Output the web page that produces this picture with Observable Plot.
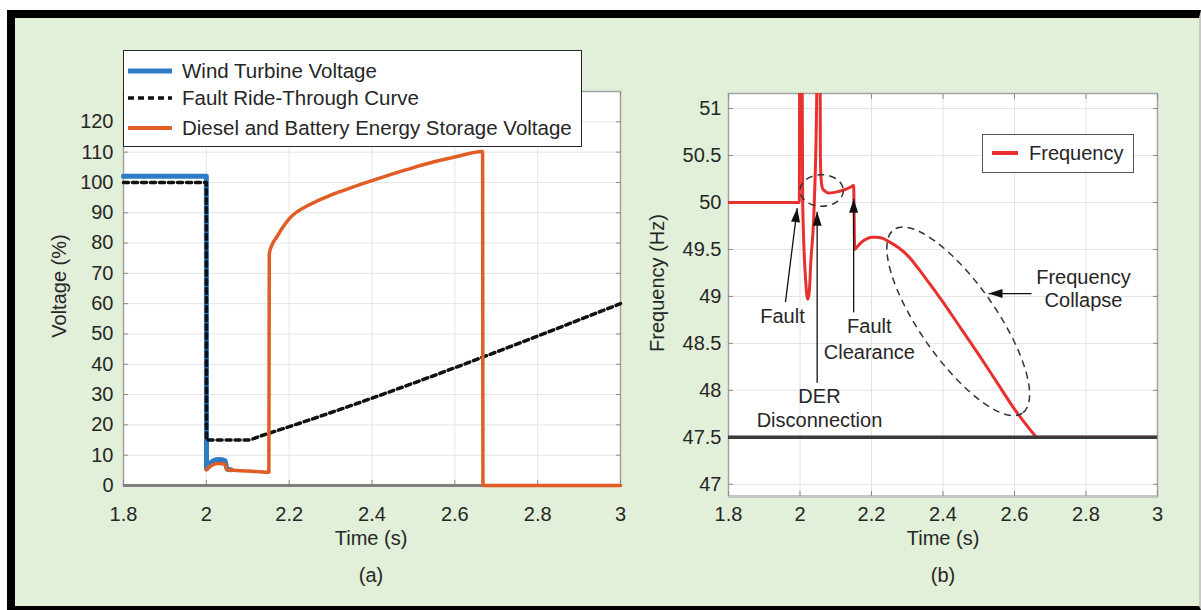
<!DOCTYPE html>
<html><head><meta charset="utf-8">
<script src="https://cdn.jsdelivr.net/npm/d3@7"></script>
<script src="https://cdn.jsdelivr.net/npm/@observablehq/plot@0.6"></script>
<style>
html,body{margin:0;padding:0;background:#fff;}
body{width:1201px;height:610px;position:relative;overflow:hidden;font-family:"Liberation Sans",Arial,Helvetica,sans-serif;color:#262626;}
#panel{position:absolute;left:7px;top:10px;width:1194px;height:600px;box-sizing:border-box;background:#e2efd9;border-left:8px solid #000;border-top:8px solid #000;border-bottom:4px solid #000;border-right:2px solid #c8c8c8;}
.chart{position:absolute;top:0;}
.lbl{position:absolute;transform:translate(-50%,-50%);white-space:nowrap;font-size:20px;line-height:1;}
.rot{transform:translate(-50%,-50%) rotate(-90deg);}
.legend{position:absolute;background:#fff;border:1.5px solid #262626;box-sizing:border-box;}
.legend .row{position:absolute;left:0;height:24px;white-space:nowrap;font-size:20px;line-height:24px;}
.legend svg{position:absolute;top:0;}
.legend span{position:absolute;top:0;}
</style></head>
<body>
<div id="panel"></div>
<div id="left" class="chart" style="left:0px"></div>
<div id="right" class="chart" style="left:630px"></div>
<script>
// ---------- data ----------
const timeTicks = [1.8, 2, 2.2, 2.4, 2.6, 2.8, 3];
const voltageTicks = [0, 10, 20, 30, 40, 50, 60, 70, 80, 90, 100, 110, 120];
const freqTicks = [47, 47.5, 48, 48.5, 49, 49.5, 50, 50.5, 51];

const windT = [1.8, 2.0, 2.0005, 2.005, 2.015, 2.03, 2.045, 2.05, 2.06];
const windV = [102, 102, 5.5, 6.5, 8.0, 8.6, 8.2, 5.4, 5.2];

const frtT = [1.8, 2.0, 2.0005, 2.1, 2.13, 3.0];
const frtV = [100, 100, 15, 15, 16.3, 60];

const dieselT = [2.0, 2.005, 2.015, 2.03, 2.045, 2.05, 2.1, 2.151, 2.152, 2.16, 2.17, 2.185, 2.2, 2.25, 2.3, 2.35, 2.4, 2.45, 2.5, 2.55, 2.6, 2.667, 2.668, 3.0];
const dieselV = [5.2, 5.8, 6.8, 7.3, 7.0, 5.2, 4.8, 4.4, 76.5, 79.8, 82.0, 85.3, 88.0, 92.7, 95.8, 98.3, 100.6, 102.8, 104.9, 106.8, 108.4, 110.2, 0, 0];

const freqT = [1.8, 1.998, 2.0, 2.004, 2.0075, 2.016, 2.022, 2.026, 2.03, 2.04, 2.047, 2.049, 2.055, 2.057, 2.059, 2.063, 2.07, 2.08, 2.1, 2.12, 2.14, 2.15, 2.153, 2.16, 2.17, 2.185, 2.2, 2.215, 2.23, 2.25, 2.275, 2.3, 2.35, 2.4, 2.45, 2.5, 2.55, 2.6, 2.661, 2.7, 3.0];
const freqF = [50, 50, 53, 53, 50.0, 49.16, 48.97, 49.05, 49.35, 50.0, 51.2, 53, 53, 50.5, 50.25, 50.15, 50.12, 50.10, 50.11, 50.13, 50.16, 50.18, 49.5, 49.53, 49.57, 49.61, 49.63, 49.63, 49.62, 49.58, 49.52, 49.44, 49.2, 48.94, 48.66, 48.38, 48.09, 47.8, 47.5, 47.5, 47.5];
const collapseEnd = 2.661;

const trip = 47.5;

const seriesNames = ["Wind Turbine Voltage", "Fault Ride-Through Curve", "Diesel and Battery Energy Storage Voltage"];
const freqName = "Frequency";

// annotation texts (right panel)
const noteText = ["Fault", "Fault", "Clearance", "DER", "Disconnection", "Frequency", "Collapse"];
const noteT = [1.951, 2.194, 2.194, 2.0545, 2.0545, 2.793, 2.793];
const noteF = [48.78, 48.684, 48.397, 47.929, 47.673, 49.205, 48.96];

// arrows: tail (t1,f1) -> tip (t2,f2)
const arrowName = ["Fault", "DER Disconnection", "Fault Clearance", "Frequency Collapse"];
const arrowT1 = [1.9594, 2.048, 2.150, 2.6476];
const arrowF1 = [48.94, 48.08, 48.83, 49.03];
const arrowT2 = [1.9922, 2.048, 2.150, 2.5273];
const arrowF2 = [49.94, 49.90, 50.04, 49.03];
const arrowTurn = [7, 0, 0, -90];

// dashed ellipses (centre in data units)
const ellipseT = [2.062, 2.444];
const ellipseF = [50.122, 48.73];

// ---------- tables ----------
const windData = windT.map((t, i) => ({t, v: windV[i]}));
const frtData = frtT.map((t, i) => ({t, v: frtV[i]}));
const dieselData = dieselT.map((t, i) => ({t, v: dieselV[i]}));
const freqData = freqT.map((t, i) => ({t, f: freqF[i]}));
const notes = noteText.map((s, i) => ({s, t: noteT[i], f: noteF[i]}));
const arrows = arrowName.map((n, i) => ({n, t1: arrowT1[i], f1: arrowF1[i], t2: arrowT2[i], f2: arrowF2[i], rot: arrowTurn[i]}));
const ellipseShape = [{rx: 21.7, ry: 15.8, angle: 0}, {rx: 112, ry: 38, angle: 55}];
const ellipses = ellipseT.map((t, i) => ({t, f: ellipseF[i], ...ellipseShape[i]}));

const BLUE = "#2f7cc6", ORANGE = "#e05e26", RED = "#e8302f", INK = "#262626";
const GRID = "#e4e4e4", EDGE = "#a3a3a3", TICK = "#8a8a8a";
const fmt = d => String(d);
const baseStyle = {background: "transparent", fontSize: "20px", fontFamily: "'Liberation Sans', Arial, Helvetica, sans-serif", color: INK, overflow: "visible"};

function innerTicks(xt, yt) {
  return [
    Plot.axisX(xt, {anchor: "bottom", tickSize: 5, insetBottom: 5, tickFormat: () => "", label: null, stroke: TICK}),
    Plot.axisX(xt, {anchor: "top", tickSize: 5, insetTop: 5, tickFormat: () => "", label: null, stroke: TICK}),
    Plot.axisY(yt, {anchor: "left", tickSize: 5, insetLeft: 5, tickFormat: () => "", label: null, stroke: TICK}),
    Plot.axisY(yt, {anchor: "right", tickSize: 5, insetRight: 5, tickFormat: () => "", label: null, stroke: TICK})
  ];
}

const arrowHead = {draw(ctx) { ctx.moveTo(0, 0); ctx.lineTo(4.5, 14); ctx.lineTo(-4.5, 14); ctx.closePath(); }};

function ellipseMark(list) {
  return (index, scales) => {
    const ns = "http://www.w3.org/2000/svg";
    const g = document.createElementNS(ns, "g");
    for (const e of list) {
      const cx = scales.x(e.t), cy = scales.y(e.f);
      const el = document.createElementNS(ns, "ellipse");
      el.setAttribute("cx", cx); el.setAttribute("cy", cy);
      el.setAttribute("rx", e.rx); el.setAttribute("ry", e.ry);
      el.setAttribute("transform", `rotate(${e.angle} ${cx} ${cy})`);
      el.setAttribute("fill", "none"); el.setAttribute("stroke", "#333");
      el.setAttribute("stroke-width", 1.5); el.setAttribute("stroke-dasharray", "7,5");
      g.appendChild(el);
    }
    return g;
  };
}

// ---------- left chart ----------
const left = Plot.plot({
  width: 630, height: 610,
  marginLeft: 123, marginRight: 10, marginTop: 91, marginBottom: 125,
  x: {domain: [1.8, 3]},
  y: {domain: [0, 130]},
  style: baseStyle,
  marks: [
    Plot.frame({fill: "white", stroke: null}),
    Plot.gridX(timeTicks, {stroke: GRID, strokeOpacity: 1}),
    Plot.gridY(voltageTicks, {stroke: GRID, strokeOpacity: 1}),
    Plot.frame({stroke: EDGE, strokeWidth: 1.5}),
    ...innerTicks(timeTicks, voltageTicks),
    Plot.axisX(timeTicks, {anchor: "bottom", tickSize: 0, tickPadding: 21, label: null, tickFormat: fmt}),
    Plot.axisY(voltageTicks, {anchor: "left", tickSize: 0, tickPadding: 10, label: null, tickFormat: fmt}),
    Plot.ruleY([0], {stroke: "#7f7f7f", strokeWidth: 3}),
    Plot.line(windData, {x: "t", y: "v", stroke: BLUE, strokeWidth: 5, curve: "monotone-x"}),
    Plot.line(frtData, {x: "t", y: "v", stroke: "#111", strokeWidth: 3.5, strokeDasharray: "5,4", curve: "monotone-x"}),
    Plot.line(dieselData, {x: "t", y: "v", stroke: ORANGE, strokeWidth: 3.5, curve: "monotone-x"})
  ]
});
document.getElementById("left").appendChild(left);

// ---------- right chart ----------
const freqDomain = [46.87, 51.16];
const right = Plot.plot({
  width: 571, height: 610,
  marginLeft: 98, marginRight: 44, marginTop: 93, marginBottom: 114,
  x: {domain: [1.8, 3]},
  y: {domain: freqDomain},
  style: baseStyle,
  marks: [
    Plot.frame({fill: "white", stroke: null}),
    Plot.gridX(timeTicks, {stroke: GRID, strokeOpacity: 1}),
    Plot.gridY(freqTicks, {stroke: GRID, strokeOpacity: 1}),
    Plot.frame({stroke: EDGE, strokeWidth: 1.5}),
    Plot.ruleY([freqDomain[0]], {stroke: "#c4c4c4", strokeWidth: 3}),
    ...innerTicks(timeTicks, freqTicks),
    Plot.axisX(timeTicks, {anchor: "bottom", tickSize: 0, tickPadding: 10, label: null, tickFormat: fmt}),
    Plot.axisY(freqTicks, {anchor: "left", tickSize: 0, tickPadding: 7, label: null, tickFormat: fmt}),
    Plot.line(freqData.filter(d => d.t <= collapseEnd), {x: "t", y: "f", stroke: RED, strokeWidth: 3, clip: true, curve: "monotone-x"}),
    Plot.line(freqData.filter(d => d.t >= collapseEnd), {x: "t", y: "f", stroke: RED, strokeWidth: 3, clip: true}),
    Plot.ruleY([trip], {stroke: "#3a3a3a", strokeWidth: 3.5}),
    ellipseMark(ellipses),
    Plot.link(arrows, {x1: "t1", y1: "f1", x2: "t2", y2: "f2", stroke: "#111", strokeWidth: 1.3}),
    Plot.dot(arrows, {x: "t2", y: "f2", symbol: arrowHead, rotate: "rot", fill: "#111", stroke: null}),
    Plot.text(notes, {x: "t", y: "f", text: "s", fontSize: 20, fill: INK})
  ]
});
document.getElementById("right").appendChild(right);

// ---------- HTML text: axis titles, captions, legends ----------
function label(text, x, y, rotate) {
  const d = document.createElement("div");
  d.className = "lbl" + (rotate ? " rot" : "");
  d.style.left = x + "px"; d.style.top = y + "px";
  d.textContent = text;
  document.body.appendChild(d);
}
label("Voltage (%)", 59, 286, true);
label("Time (s)", 371, 538);
label("(a)", 371, 575);
label("Frequency (Hz)", 657, 283, true);
label("Time (s)", 943, 538);
label("(b)", 943, 575);

function swatch(kind, color, w) {
  const dash = kind === "dash" ? 'stroke-dasharray="6,4"' : "";
  const sw = kind === "dash" ? 3.5 : (kind === "thick" ? 5 : 4);
  return `<svg width="${w}" height="24"><line x1="0" x2="${w}" y1="12" y2="12" stroke="${color}" stroke-width="${sw}" ${dash}/></svg>`;
}
const lg = document.createElement("div");
lg.className = "legend";
Object.assign(lg.style, {left: "123px", top: "50px", width: "459px", height: "97px"});
const kinds = [["thick", BLUE], ["dash", "#111"], ["solid", ORANGE]];
const rowY = [8, 35, 65];
seriesNames.forEach((name, i) => {
  const r = document.createElement("div");
  r.className = "row"; r.style.top = rowY[i] + "px";
  r.innerHTML = `<span style="left:4px">${swatch(kinds[i][0], kinds[i][1], 44)}</span><span style="left:58px;font-size:20.5px">${name}</span>`;
  lg.appendChild(r);
});
document.body.appendChild(lg);

const lg2 = document.createElement("div");
lg2.className = "legend";
Object.assign(lg2.style, {left: "982px", top: "134px", width: "152px", height: "39px", borderColor: "#555"});
const r2 = document.createElement("div");
r2.className = "row"; r2.style.top = "6px";
r2.innerHTML = `<span style="left:9px">${swatch("solid", RED, 26)}</span><span style="left:46px">${freqName}</span>`;
lg2.appendChild(r2);
document.body.appendChild(lg2);
</script>
</body></html>
